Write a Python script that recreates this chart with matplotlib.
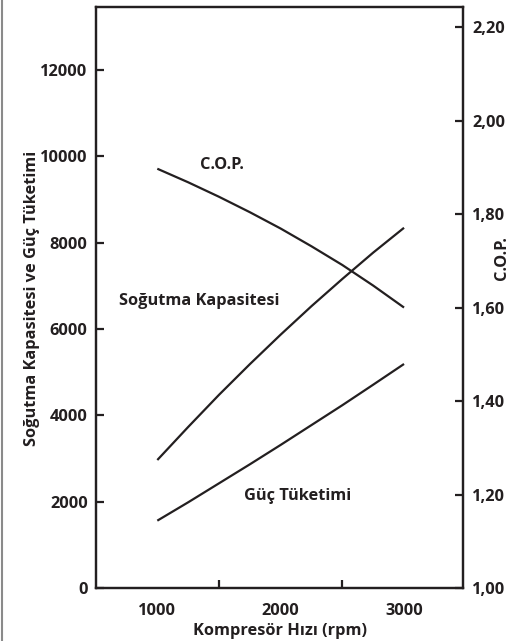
import numpy as np
import matplotlib.pyplot as plt
from matplotlib.lines import Line2D

plt.rcParams['font.family'] = ['Open Sans', 'DejaVu Sans']
plt.rcParams['font.weight'] = 'bold'

INK = '#231f20'
FS = 11.8

rpm = [1000, 1250, 1500, 1750, 2000, 2250, 2500, 2750, 3000]
capacity = [2965, 3730, 4475, 5185, 5870, 6530, 7160, 7770, 8345]   # sogutma kapasitesi
power = [1560, 1985, 2425, 2865, 3315, 3775, 4235, 4710, 5190]      # guc tuketimi
cop = [1.897, 1.868, 1.837, 1.804, 1.769, 1.731, 1.691, 1.647, 1.600]

left_ticks = [0, 2000, 4000, 6000, 8000, 10000, 12000]
right_ticks = [1.00, 1.20, 1.40, 1.60, 1.80, 2.00, 2.20]
x_labels = [1000, 2000, 3000]
x_marks = [1500, 2500]

fig = plt.figure(figsize=(5.09, 6.41), dpi=100)
ax = fig.add_axes([96 / 509, 53 / 641, 367 / 509, 581 / 641])
ax2 = ax.twinx()

ax.plot(rpm, capacity, color=INK, lw=1.6, solid_capstyle='butt')
ax.plot(rpm, power, color=INK, lw=1.6, solid_capstyle='butt')
ax2.plot(rpm, cop, color=INK, lw=1.6, solid_capstyle='butt')

ax.set_xlim(503, 3478)
ax.set_ylim(0, 13460)
ax2.set_ylim(1.0, 2.243)

for a in (ax, ax2):
    for s in a.spines.values():
        s.set_linewidth(1.6)
        s.set_color(INK)

ax.set_yticks(left_ticks)
ax.set_yticklabels([str(v) for v in left_ticks])
ax2.set_yticks(right_ticks)
ax2.set_yticklabels([('%.2f' % v).replace('.', ',') for v in right_ticks])

ax.set_xticks(x_labels)
ax.set_xticklabels([str(v) for v in x_labels])
ax.set_xticks(x_marks, minor=True)
ax.tick_params(axis='x', which='major', length=0, pad=11, labelsize=FS, colors=INK)
ax.tick_params(axis='x', which='minor', direction='in', length=5.5, width=1.6, color=INK)
ax.tick_params(axis='y', direction='in', length=6, width=1.6, pad=6, labelsize=FS, colors=INK)
ax2.tick_params(axis='y', direction='in', length=6, width=1.6, pad=6.5, labelsize=FS, colors=INK)

ax.text(1525, 9810, 'C.O.P.', ha='center', va='center', fontsize=FS, color=INK)
ax.text(1340, 6650, 'Soğutma Kapasitesi', ha='center', va='center', fontsize=FS, color=INK)
ax.text(2134, 2130, 'Güç Tüketimi', ha='center', va='center', fontsize=FS, color=INK)

fig.text(32 / 509, 1 - 298 / 641, 'Soğutma Kapasitesi ve Güç Tüketimi',
         rotation=90, ha='center', va='center', fontsize=FS, color=INK)
fig.text(502 / 509, 1 - 258 / 641, 'C.O.P.', rotation=90,
         ha='center', va='center', fontsize=FS, color=INK)
fig.text(280 / 509, 1 - 631 / 641, 'Kompresör Hızı (rpm)',
         ha='center', va='center', fontsize=FS, color=INK)

# thin grey frame edge on the left
fig.add_artist(Line2D([1.5 / 509, 1.5 / 509], [0, 1], transform=fig.transFigure,
                      color='#8a8a8a', lw=1.5))

fig.savefig('out.png', dpi=100)
